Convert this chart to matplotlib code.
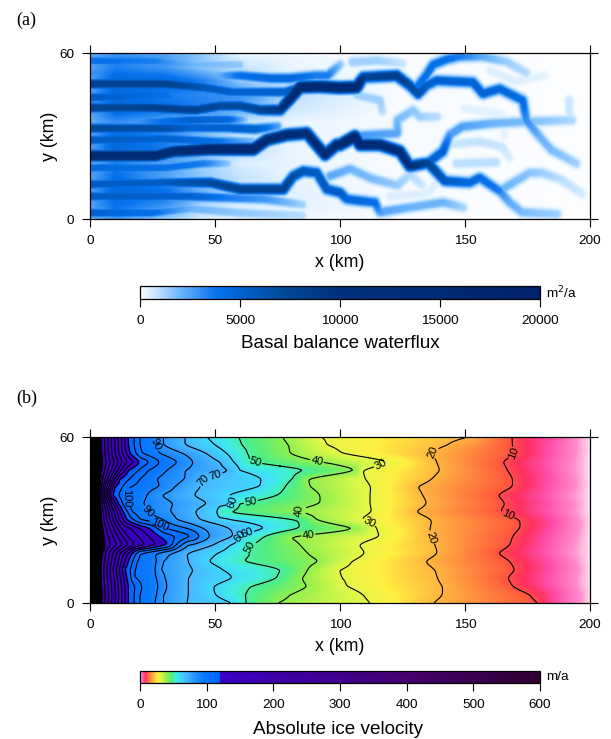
import matplotlib
matplotlib.use("Agg")
import matplotlib.pyplot as plt
import numpy as np
from matplotlib.colors import LinearSegmentedColormap, Normalize

plt.rcParams['font.family'] = ['Liberation Sans', 'DejaVu Sans']

# (a) water channels: x km, y km, flux m2/a at each vertex
channels = [
    # upper main channel
    ([0, 25, 42, 52, 60, 68, 76, 80, 84, 92, 100, 106.7, 109.3, 122.7, 128, 131.3, 134.7, 138.7, 153.3, 157.3, 164, 173.3, 174.7, 180, 184.7, 194.7],
     [40.3, 40.3, 39.5, 41, 41, 39.5, 39.5, 43.6, 47.8, 48, 47.6, 47.8, 51.4, 52, 48.4, 45.4, 48.4, 50.2, 49.6, 45.4, 47.2, 43, 35.8, 29.8, 25, 20],
     [7500, 8000, 8000, 7000, 7000, 7500, 9000, 13000, 15000, 15000, 15000, 15000, 8000, 8500, 7000, 6500, 5000, 5000, 4800, 4800, 4500, 4200, 3000, 2000, 1800, 1300]),
    # central main channel
    ([0, 26, 33.3, 48, 65.3, 70.7, 78.7, 86.7, 90, 94, 98.7, 100, 106, 108, 116, 124, 128, 135.3, 142, 152, 156, 164],
     [22.8, 22.8, 24.4, 25.2, 25.2, 28.6, 30.4, 31, 27.4, 23.2, 26.8, 26.8, 29.8, 26.8, 26.8, 24.4, 19, 20.2, 13.6, 13, 14.8, 10],
     [14000, 14000, 14000, 16000, 16000, 13000, 13000, 12000, 12000, 12000, 12000, 13000, 16000, 13000, 13000, 12000, 10000, 7500, 5500, 4500, 4300, 3500]),
    # lower channel
    ([0, 28, 48, 60, 77.3, 81.3, 85.3, 90.7, 94.7, 100, 102.7, 108, 114, 116, 128, 141.3, 149.3],
     [12.4, 13, 13, 10.6, 10.6, 15.4, 17.2, 16.6, 10.6, 9.4, 7, 6.4, 5.8, 2.2, 4, 5.8, 4],
     [5500, 5500, 7000, 8000, 8000, 6500, 6000, 5500, 5500, 5500, 4500, 4500, 4000, 2500, 2000, 2000, 1200]),
    # left hand bands
    ([0, 30, 45, 57, 68, 78, 82], [49, 49, 47.7, 46, 46, 46, 47], [8000, 8000, 6000, 5000, 5000, 5000, 6000]),
    ([0, 30, 40, 55, 66, 75], [32.8, 32.8, 33, 33, 32.5, 33.5], [7000, 6500, 5000, 5000, 5000, 2500]),
    ([20, 40, 55, 62], [35, 35.8, 36, 36], [3000, 5000, 4500, 1500]),
    ([0, 30, 35, 48], [44, 45, 43, 42], [5500, 4000, 3000, 2500]),
    ([0, 25, 40, 60], [57.4, 57.4, 56, 56], [4000, 3500, 2000, 1500]),
    ([0, 35, 50, 60, 72, 80, 90, 95, 100], [53, 53, 52, 52, 51, 51, 52, 52, 56], [3000, 3000, 1800, 4000, 4500, 4500, 3500, 3500, 1500]),
    ([0, 30, 45, 55], [18.4, 18.4, 20, 20], [4500, 4000, 3500, 1500]),
    ([0, 40, 55, 70, 85], [8, 8, 7.5, 7, 5], [5500, 5000, 3500, 2800, 1200]),
    ([0, 25, 40, 60, 85], [2, 2, 3.5, 2, 1], [5000, 4000, 2000, 1500, 1000]),
    ([0, 30, 50, 65], [28.5, 29, 28, 28], [5500, 5000, 4000, 1800]),
    # branches on the right
    ([131, 134.7, 137.3, 142.7, 148, 157, 167, 174.7], [48, 52.3, 56, 57.9, 59, 59, 57, 53], [4000, 4000, 4000, 4000, 3500, 2200, 1300, 1000]),
    ([135.3, 141.3, 144, 149, 161, 174.7, 193], [20.2, 24.4, 30.4, 33.4, 34.6, 35.2, 35.8], [5000, 5000, 2600, 2500, 2000, 1800, 1100]),
    ([106, 123, 123, 129.3, 132, 139], [30, 31, 35.8, 39.4, 37, 37], [2800, 2300, 1800, 1500, 1300, 900]),
    ([164, 168, 173, 187], [10, 5.8, 2.2, 1.5], [3000, 2200, 1800, 1300]),
    ([164, 176, 181, 189, 197], [10, 16.6, 16.6, 14, 9], [2000, 1600, 1300, 900, 600]),
    ([96, 104, 113, 123, 128, 133], [15.4, 18, 14.4, 12, 16, 12], [2300, 2000, 1800, 1400, 1000, 700]),
    ([105, 115, 125], [57, 57.5, 56.5], [1300, 1300, 700]),
    ([106.7, 116, 117], [45, 43, 39], [1300, 1300, 900]),
    ([192, 192], [43, 37], [700, 700]),
    ([146.7, 162.7], [20, 20.5], [900, 900]),
    ([145, 156, 165, 168], [27, 28, 26, 22], [700, 800, 700, 500]),
    ([120, 135, 140], [8, 9, 14], [500, 450, 450]),
    ([160, 170, 182], [54, 50, 52], [450, 450, 350]),
    ([150, 165, 166], [40, 38, 30], [400, 400, 350]),
]

# pale flux between the channels, rows y = 60, 55, ... 0 at the columns in base_x
base_x = [0, 10, 30, 45, 60, 80, 120, 200]
base_y = [60, 55, 50, 45, 40, 35, 30, 25, 20, 15, 10, 5, 0]
base_flux = [
    [2200, 3000, 2500, 1500, 300, 200, 120, 40],
    [2500, 3500, 2800, 1500, 800, 300, 120, 40],
    [2500, 4500, 4500, 3500, 1500, 500, 120, 40],
    [2500, 4500, 3500, 3200, 3000, 900, 120, 40],
    [2500, 4500, 4000, 3500, 2500, 700, 120, 40],
    [2200, 3000, 2200, 1500, 700, 300, 120, 40],
    [2500, 4500, 3500, 2000, 800, 300, 120, 40],
    [2500, 4500, 3500, 2500, 1000, 300, 120, 40],
    [2200, 3500, 2500, 1300, 500, 300, 120, 40],
    [2500, 4000, 2500, 1500, 800, 300, 120, 40],
    [2500, 4500, 4000, 2000, 800, 400, 120, 40],
    [2500, 4000, 3000, 1200, 500, 400, 120, 40],
    [2000, 3000, 1500, 600, 300, 200, 120, 40],
]

# (b) x km where the ice velocity passes each value, one entry per row y = 0, 3, ... 60
vel_rows = [0, 3, 6, 9, 12, 15, 18, 21, 24, 27, 30, 33, 36, 39, 42, 45, 48, 51, 54, 57, 60]
vel_levels = [2, 5, 10, 20, 30, 40, 50, 60, 70, 80, 90, 100, 120, 150, 200, 300, 400]
x_at_level = [
    [196, 197, 195, 195, 196, 195, 193, 194, 195, 196, 196, 194, 195, 193, 195, 195, 194, 194, 195, 195, 195],
    [186, 187, 184, 183, 185, 184, 181, 182, 183, 185, 186, 182, 183, 181, 183, 184, 183, 182, 184, 184, 186],
    [179.3, 176, 169, 167, 170, 168, 163, 168, 169, 172, 172, 164, 166, 163, 169, 169, 167, 165, 170, 169, 168.7],
    [137.3, 141, 141, 139, 138, 134, 139, 138, 136, 136, 136.7, 130, 134.7, 133, 130.7, 137, 140, 138.7, 136, 142.7, 152.7],
    [112, 109.3, 102.7, 100.7, 99.3, 104.7, 110, 107.3, 116, 114.7, 108, 112.7, 112, 112, 112.3, 110, 109, 120, 100.7, 94.7, 92],
    [74.7, 80, 87, 84.7, 87, 92, 87, 84, 78.7, 107, 90.7, 81.3, 92, 92, 88, 87, 107, 92, 80, 79.5, 77],
    [62.4, 62, 64, 74.7, 76.7, 60.7, 64, 64, 69.3, 84, 83.3, 52, 60, 75, 78, 81, 88, 64, 63, 60.7, 59.3],
    [57, 50, 49.3, 57.3, 53.3, 47.3, 50.7, 56, 60, 70.7, 57.3, 50.7, 57.3, 55, 68, 68.7, 60, 57.3, 54.7, 50, 46.7],
    [38.7, 39.3, 39.3, 39.3, 41.3, 39.3, 38.7, 49.3, 57.3, 56, 44, 42, 47.3, 41.3, 44, 45.3, 56, 52, 46.7, 38, 38],
    [29.3, 29.3, 30.7, 30, 28, 29.3, 32, 39.3, 48, 45.3, 34.7, 32, 33.3, 28, 34, 38, 38, 41.3, 37.3, 29.3, 29.3],
    [26, 26.7, 27.3, 26.7, 26, 26.7, 26, 36.7, 44, 38.7, 29.3, 22.7, 21.3, 22.7, 28, 26.7, 30.7, 35.3, 28, 26.7, 24.7],
    [20, 20, 20.7, 18, 18, 18.7, 20, 34.7, 41.3, 30, 20, 16.7, 14.7, 14, 16, 20, 23.3, 28, 20.7, 20, 20],
    [15.3, 15.3, 15.3, 14.7, 14, 15.3, 16.7, 31.3, 28, 24, 14.7, 13.3, 11.3, 8.7, 10, 12, 15.3, 20, 16, 15.3, 15.3],
    [11.3, 11.5, 11.3, 11, 10.5, 11.3, 12, 18, 15, 12.5, 10.5, 9.5, 8.3, 6.8, 7.5, 9, 11.3, 13, 11.5, 11.3, 11.3],
    [4.5, 4.7, 4.5, 4.3, 4.2, 4.5, 4.7, 6, 5.5, 5, 4.3, 4.2, 4, 3.8, 3.9, 4.1, 4.5, 5, 4.5, 4.5, 4.5],
    [3, 3.1, 3, 3, 2.9, 3, 3.1, 3.3, 3.2, 3.1, 3, 2.9, 2.8, 2.7, 2.8, 2.9, 3, 3.2, 3, 3, 3],
    [1.5, 1.6, 1.5, 1.5, 1.4, 1.5, 1.6, 1.7, 1.6, 1.6, 1.5, 1.4, 1.4, 1.3, 1.4, 1.4, 1.5, 1.6, 1.5, 1.5, 1.5],
]

# where the contour labels sit
label_spots = [(172.7, 52), (166, 29.5), (137, 54.4), (134, 22.8), (117, 48), (111.3, 28.5),
               (90.7, 51), (82, 33.9), (87.3, 25), (66.4, 52.3), (64.4, 36), (62, 21),
               (57.3, 36.6), (49.6, 48.3), (62.3, 26.8), (42, 45.7), (60, 24.3), (25, 56.5),
               (28, 28.8), (22, 32), (14, 38)]

flux_ticks = [0, 5000, 10000, 15000, 20000]
vel_ticks = [0, 100, 200, 300, 400, 500, 600]
x_ticks = [0, 50, 100, 150, 200]
y_ticks = [0, 60]

flux_colors = [(0, '#ffffff'), (0.05, '#b4dcff'), (0.1, '#6cb4fa'), (0.19, '#0873ee'), (0.25, '#0062d0'),
               (0.35, '#004a9c'), (0.5, '#00307c'), (0.75, '#002a74'), (1, '#00246c')]
flux_cmap = LinearSegmentedColormap.from_list('flux', flux_colors, N=1024)
vel_colors = [(0, '#ffe4f0'), (2, '#ff8ccb'), (5, '#ff4ca8'), (8, '#ff3060'), (11, '#ff603c'), (16, '#ff9040'),
              (21, '#ffc040'), (26, '#fff040'), (31, '#e0f848'), (40, '#90f050'), (47, '#50ee80'), (54, '#40eee0'),
              (60, '#40d8ff'), (70, '#48b8ff'), (80, '#2c98ff'), (95, '#0a78ff'), (119, '#0064ff'),
              (120, '#3a00c8'), (200, '#3c00aa'), (400, '#460070'), (600, '#300030')]
vel_cmap = LinearSegmentedColormap.from_list('vel', [(v / 600, c) for v, c in vel_colors], N=2400)

# paint the channels on a grid
grid_x = np.arange(0, 200.25, 0.5)
grid_y = np.arange(0, 60.25, 0.5)
gx, gy = np.meshgrid(grid_x, grid_y)
base_table = np.array(base_flux, dtype=float)
base_cols = np.array([np.interp(grid_y, base_y[::-1], base_table[::-1, j]) for j in range(len(base_x))])
flux = np.array([np.interp(grid_x, base_x, base_cols[:, i]) for i in range(len(grid_y))])
for cx, cy, cf in channels:
    seg = np.hypot(np.diff(cx), np.diff(cy))
    s = np.concatenate([[0], np.cumsum(seg)])
    t = np.arange(0, s[-1] + 0.4, 0.4)
    px = np.interp(t, s, cx)
    py = np.interp(t, s, cy)
    pf = np.interp(t, s, cf)
    for a, b, f in zip(px, py, pf):
        bump = np.minimum(1, 1.3 * np.exp(-((gx - a)**2 + (gy - b)**2) / (2 * 1.2**2)))
        flux = np.maximum(flux, f * bump)

# velocity grid from the crossing table
levels = np.array([0] + vel_levels + [600])
rows = []
for i in range(len(vel_rows)):
    xs = [201] + [col[i] for col in x_at_level] + [0]
    xs = np.array(xs[::-1], dtype=float)
    rows.append(np.interp(grid_x, np.maximum.accumulate(xs), levels[::-1]))
rows = np.array(rows)
vel = np.array([[np.interp(y, vel_rows, rows[:, j]) for j in range(len(grid_x))] for y in grid_y])
# rows are 3 km apart, take the kinks out in y
kernel = np.array([1, 2, 3, 2, 1]) / 9
padded = np.pad(vel, ((2, 2), (0, 0)), mode='edge')
vel = np.apply_along_axis(lambda c: np.convolve(c, kernel, mode='valid'), 0, padded)

fig = plt.figure(figsize=(6.11, 7.39), dpi=100)
W, H = 611.0, 739.0


def make_axes(left, top, right, bottom):
    return fig.add_axes([left / W, 1 - bottom / H, (right - left) / W, (bottom - top) / H])


def style_map(ax):
    ax.set_xlim(0, 200)
    ax.set_ylim(0, 60)
    ax.set_xticks(x_ticks)
    ax.set_yticks(y_ticks)
    ax.tick_params(top=True, right=True, length=5.5, width=0.8, labelsize=9.7, pad=6)
    ax.set_xlabel('x (km)', fontsize=12.8, labelpad=5)
    ax.set_ylabel('y (km)', fontsize=12.8, labelpad=1)
    for sp in ax.spines.values():
        sp.set_linewidth(0.9)


ax1 = make_axes(90, 53, 590, 219)
im1 = ax1.imshow(flux, origin='lower', extent=(0, 200, 0, 60), aspect='auto', cmap=flux_cmap,
                 norm=Normalize(0, 20000), interpolation='bilinear')
style_map(ax1)

ax2 = make_axes(90, 437, 590, 603)
im2 = ax2.imshow(vel, origin='lower', extent=(0, 200, 0, 60), aspect='auto', cmap=vel_cmap,
                 norm=Normalize(0, 600), interpolation='bilinear')
cs = ax2.contour(grid_x, grid_y, vel, levels=np.arange(10, 601, 10), colors='k', linewidths=0.8)
ax2.clabel(cs, manual=label_spots, inline=True, inline_spacing=1, fontsize=8, fmt='%d')
style_map(ax2)

cax1 = make_axes(140, 286, 540, 299)
cb1 = fig.colorbar(im1, cax=cax1, orientation='horizontal', ticks=flux_ticks)
cax2 = make_axes(140, 671, 540, 683)
cb2 = fig.colorbar(im2, cax=cax2, orientation='horizontal', ticks=vel_ticks)
for cb in (cb1, cb2):
    cb.ax.tick_params(length=5.5, width=0.8, labelsize=9.7, pad=6)
    cb.outline.set_linewidth(0.9)

fig.text(340 / W, 1 - 344 / H, 'Basal balance waterflux', fontsize=13.6, ha='center', va='center')
fig.text(338 / W, 1 - 729 / H, 'Absolute ice velocity', fontsize=13.6, ha='center', va='center')
fig.text(546 / W, 1 - 293 / H, 'm$^{2}$/a', fontsize=9.7, ha='left', va='center', math_fontfamily='custom')
fig.text(546 / W, 1 - 677 / H, 'm/a', fontsize=9.7, ha='left', va='center')
fig.text(16 / W, 1 - 20 / H, '(a)', fontsize=13, ha='left', va='center', family='Liberation Serif')
fig.text(16 / W, 1 - 398 / H, '(b)', fontsize=13, ha='left', va='center', family='Liberation Serif')

fig.savefig('out.png', dpi=100)
